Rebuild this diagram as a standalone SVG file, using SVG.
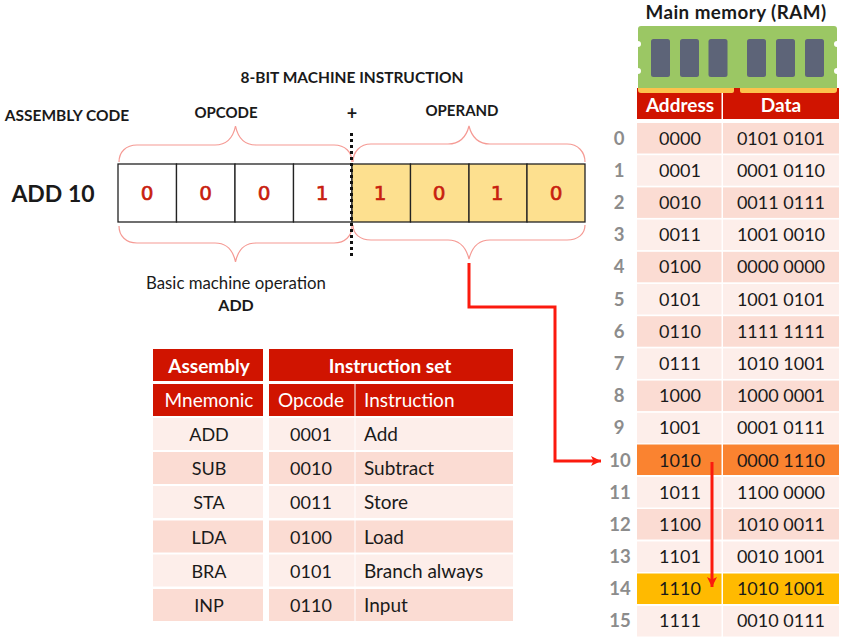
<svg xmlns="http://www.w3.org/2000/svg" width="846" height="639" viewBox="0 0 846 639">
<style>
text{font-family:"Lato","Open Sans","Liberation Sans",sans-serif;fill:#1a1a1a}
.m{text-anchor:middle}
.b{font-weight:700}
.t{font-size:15.500px}
.c{font-size:18px;text-anchor:middle}
.i{font-size:19px}
.h{font-size:19px;fill:#fff;text-anchor:middle}
.hb{font-size:19px;fill:#fff;text-anchor:middle;font-weight:700}
.n{font-size:18.500px;font-weight:700;fill:#8c8c8c;text-anchor:middle}
.bit{font-family:"DejaVu Sans",sans-serif;font-size:20px;fill:#c8200e;text-anchor:middle;font-weight:400;stroke:#c8200e;stroke-width:.6}
.red{fill:#d01400}
.d{fill:#fbdcd3}
.l{fill:#fdeeea}
.cell{stroke:#222;stroke-width:1.3}
.brace{fill:none;stroke:#f59a94;stroke-width:1.2}
.conn{fill:none;stroke:#fb1a0e;stroke-width:3}
.chip{fill:#5d6478}
.strip{fill:#fcc24c}
</style>
<defs>
<marker id="arr" markerUnits="userSpaceOnUse" markerWidth="12" markerHeight="12" refX="10" refY="5" orient="auto"><path d="M0 0L10 5L0 10L2.500 5Z" fill="#fb1a0e"/></marker>
</defs>
<rect width="846" height="639" fill="#fff"/>

<g id="title-instruction"><text class="m b t" x="352" y="83">8-BIT MACHINE INSTRUCTION</text></g>
<g id="label-assembly"><text class="m b t" x="67" y="121">ASSEMBLY CODE</text></g>
<g id="label-opcode"><text class="m b" style="font-size:15px" x="226" y="118">OPCODE</text></g>
<g id="label-plus"><text class="m b" style="font-size:18px" x="352" y="120">+</text></g>
<g id="label-operand"><text class="m b" style="font-size:15px" x="462" y="116">OPERAND</text></g>
<g id="label-add10"><text class="m b" style="font-size:23px" x="53" y="202">ADD 10</text></g>
<g id="label-basic"><text class="m" style="font-size:16.800px" x="236" y="289">Basic machine operation</text><text class="m b" style="font-size:16px" x="236" y="311">ADD</text></g>

<g id="opcode-bits">
<rect class="cell" x="118" y="164" width="58.500" height="58" fill="#fff"/><text class="bit" x="147" y="200">0</text>
<rect class="cell" x="176.500" y="164" width="58.500" height="58" fill="#fff"/><text class="bit" x="205.500" y="200">0</text>
<rect class="cell" x="235" y="164" width="58.500" height="58" fill="#fff"/><text class="bit" x="264" y="200">0</text>
<rect class="cell" x="293.500" y="164" width="58.500" height="58" fill="#fff"/><text class="bit" x="322" y="200">1</text>
</g>
<g id="operand-bits">
<rect class="cell" x="352" y="164" width="58.500" height="58" fill="#fde08f"/><text class="bit" x="380" y="200">1</text>
<rect class="cell" x="410.500" y="164" width="58.500" height="58" fill="#fde08f"/><text class="bit" x="439" y="200">0</text>
<rect class="cell" x="469" y="164" width="58" height="58" fill="#fde08f"/><text class="bit" x="497" y="200">1</text>
<rect class="cell" x="527" y="164" width="58" height="58" fill="#fde08f"/><text class="bit" x="556" y="200">0</text>
</g>
<g id="braces">
<path class="brace" d="M119 162C119 152 126 145 137 145H215C226 145 233 138 235.500 126C238 138 245 145 256 145H334C345 145 352 152 352 162"/>
<path class="brace" d="M119 226C119 236 126 243 137 243H215C226 243 233 250 235.500 262C238 250 245 243 256 243H334C345 243 352 236 352 226"/>
<path class="brace" d="M353 162C353 152 360 144 371 144H448C459 144 466 138 469 126C472 138 479 144 490 144H567C578 144 585 152 585 162"/>
<path class="brace" d="M353 225C353 234 360 240 371 240H448C459 240 466 247 469 259C472 247 479 240 490 240H567C578 240 585 234 585 225"/>
</g>
<g id="divider"><line x1="351.500" y1="133" x2="351.500" y2="259" stroke="#111" stroke-width="3" stroke-dasharray="3 3"/></g>

<g id="instruction-table">
<rect class="red" x="153" y="349" width="110" height="32"/><text class="hb" x="209" y="373">Assembly</text>
<rect class="red" x="269" y="349" width="244" height="32"/><text class="hb" x="390" y="373">Instruction set</text>
<rect class="red" x="153" y="384" width="110" height="32"/><text class="h" x="209" y="407">Mnemonic</text>
<rect class="red" x="269" y="384" width="85.500" height="32"/><text class="h" x="311" y="407">Opcode</text>
<rect class="red" x="355.500" y="384" width="157.500" height="32"/><text class="h" style="text-anchor:start" x="364" y="407">Instruction</text>
<rect class="l" x="153" y="418" width="110" height="32"/><rect class="l" x="269" y="418" width="85.500" height="32"/><rect class="l" x="355.500" y="418" width="157.500" height="32"/>
<rect class="d" x="153" y="452" width="110" height="32"/><rect class="d" x="269" y="452" width="85.500" height="32"/><rect class="d" x="355.500" y="452" width="157.500" height="32"/>
<rect class="l" x="153" y="486" width="110" height="32"/><rect class="l" x="269" y="486" width="85.500" height="32"/><rect class="l" x="355.500" y="486" width="157.500" height="32"/>
<rect class="d" x="153" y="520.500" width="110" height="32"/><rect class="d" x="269" y="520.500" width="85.500" height="32"/><rect class="d" x="355.500" y="520.500" width="157.500" height="32"/>
<rect class="l" x="153" y="554.500" width="110" height="32"/><rect class="l" x="269" y="554.500" width="85.500" height="32"/><rect class="l" x="355.500" y="554.500" width="157.500" height="32"/>
<rect class="d" x="153" y="589" width="110" height="32"/><rect class="d" x="269" y="589" width="85.500" height="32"/><rect class="d" x="355.500" y="589" width="157.500" height="32"/>
<text class="c" x="209" y="441">ADD</text><text class="c" x="311" y="441">0001</text><text class="i" x="364" y="441">Add</text>
<text class="c" x="209" y="475">SUB</text><text class="c" x="311" y="475">0010</text><text class="i" x="364" y="475">Subtract</text>
<text class="c" x="209" y="509">STA</text><text class="c" x="311" y="509">0011</text><text class="i" x="364" y="509">Store</text>
<text class="c" x="209" y="544">LDA</text><text class="c" x="311" y="544">0100</text><text class="i" x="364" y="544">Load</text>
<text class="c" x="209" y="578">BRA</text><text class="c" x="311" y="578">0101</text><text class="i" x="364" y="578">Branch always</text>
<text class="c" x="209" y="612">INP</text><text class="c" x="311" y="612">0110</text><text class="i" x="364" y="612">Input</text>
</g>

<g id="ram-title"><text class="m b" style="font-size:18.800px;letter-spacing:.45px" x="736" y="19">Main memory (RAM)</text></g>
<g id="ram-chip">
<path d="M641 26H834a3 3 0 0 1 3 3V41a3 3 0 0 0 0 6V68a3 3 0 0 0 0 6V88H638V74a3 3 0 0 0 0-6V47a3 3 0 0 0 0-6V29a3 3 0 0 1 3-3Z" fill="#9bc764"/>
<rect class="chip" x="651" y="39" width="19" height="38" rx="2.500"/>
<rect class="chip" x="680" y="39" width="19" height="38" rx="2.500"/>
<rect class="chip" x="708.500" y="39" width="19" height="38" rx="2.500"/>
<rect class="chip" x="747" y="39" width="19" height="38" rx="2.500"/>
<rect class="chip" x="776" y="39" width="19" height="38" rx="2.500"/>
<rect class="chip" x="805" y="39" width="19" height="38" rx="2.500"/>
</g>
<g id="ram-header">
<rect class="red" x="637" y="88" width="84.500" height="31"/><text class="hb" x="680" y="112">Address</text>
<rect class="red" x="723" y="88" width="116" height="31"/><text class="hb" x="781" y="112">Data</text>
<path class="strip" d="M638 88H734V91a2 2 0 0 1-2 2H641a3 3 0 0 1-3-3Z"/>
<path class="strip" d="M740 88H837V90a3 3 0 0 1-3 3H742a2 2 0 0 1-2-2Z"/>
</g>
<g id="ram-rows">
<rect class="d" x="637" y="123" width="84.500" height="30.500"/><rect class="d" x="723" y="123" width="116" height="30.500"/>
<rect class="l" x="637" y="155.200" width="84.500" height="30.500"/><rect class="l" x="723" y="155.200" width="116" height="30.500"/>
<rect class="d" x="637" y="187.400" width="84.500" height="30.500"/><rect class="d" x="723" y="187.400" width="116" height="30.500"/>
<rect class="l" x="637" y="219.600" width="84.500" height="30.500"/><rect class="l" x="723" y="219.600" width="116" height="30.500"/>
<rect class="d" x="637" y="251.800" width="84.500" height="30.500"/><rect class="d" x="723" y="251.800" width="116" height="30.500"/>
<rect class="l" x="637" y="284" width="84.500" height="30.500"/><rect class="l" x="723" y="284" width="116" height="30.500"/>
<rect class="d" x="637" y="316.200" width="84.500" height="30.500"/><rect class="d" x="723" y="316.200" width="116" height="30.500"/>
<rect class="l" x="637" y="348.400" width="84.500" height="30.500"/><rect class="l" x="723" y="348.400" width="116" height="30.500"/>
<rect class="d" x="637" y="380.600" width="84.500" height="30.500"/><rect class="d" x="723" y="380.600" width="116" height="30.500"/>
<rect class="l" x="637" y="412.800" width="84.500" height="30.500"/><rect class="l" x="723" y="412.800" width="116" height="30.500"/>
<rect fill="#fa8330" x="637" y="444.500" width="84.500" height="30.500"/><rect fill="#fa8330" x="723" y="444.500" width="116" height="30.500"/>
<rect class="l" x="637" y="477" width="84.500" height="30.500"/><rect class="l" x="723" y="477" width="116" height="30.500"/>
<rect class="d" x="637" y="509" width="84.500" height="30.500"/><rect class="d" x="723" y="509" width="116" height="30.500"/>
<rect class="l" x="637" y="541.500" width="84.500" height="30.500"/><rect class="l" x="723" y="541.500" width="116" height="30.500"/>
<rect fill="#ffba00" x="637" y="573.500" width="84.500" height="30.500"/><rect fill="#ffba00" x="723" y="573.500" width="116" height="30.500"/>
<rect class="l" x="637" y="606" width="84.500" height="30.500"/><rect class="l" x="723" y="606" width="116" height="30.500"/>
<text class="n" x="619" y="145">0</text><text class="c" x="680" y="145">0000</text><text class="c" x="781" y="145">0101 0101</text>
<text class="n" x="619" y="177">1</text><text class="c" x="680" y="177">0001</text><text class="c" x="781" y="177">0001 0110</text>
<text class="n" x="619" y="209">2</text><text class="c" x="680" y="209">0010</text><text class="c" x="781" y="209">0011 0111</text>
<text class="n" x="619" y="241">3</text><text class="c" x="680" y="241">0011</text><text class="c" x="781" y="241">1001 0010</text>
<text class="n" x="619" y="273">4</text><text class="c" x="680" y="273">0100</text><text class="c" x="781" y="273">0000 0000</text>
<text class="n" x="619" y="306">5</text><text class="c" x="680" y="306">0101</text><text class="c" x="781" y="306">1001 0101</text>
<text class="n" x="619" y="338">6</text><text class="c" x="680" y="338">0110</text><text class="c" x="781" y="338">1111 1111</text>
<text class="n" x="619" y="370">7</text><text class="c" x="680" y="370">0111</text><text class="c" x="781" y="370">1010 1001</text>
<text class="n" x="619" y="402">8</text><text class="c" x="680" y="402">1000</text><text class="c" x="781" y="402">1000 0001</text>
<text class="n" x="619" y="434">9</text><text class="c" x="680" y="434">1001</text><text class="c" x="781" y="434">0001 0111</text>
<text class="n" x="620" y="467">10</text><text class="c" x="680" y="467">1010</text><text class="c" x="781" y="467">0000 1110</text>
<text class="n" x="620" y="499">11</text><text class="c" x="680" y="499">1011</text><text class="c" x="781" y="499">1100 0000</text>
<text class="n" x="620" y="531">12</text><text class="c" x="680" y="531">1100</text><text class="c" x="781" y="531">1010 0011</text>
<text class="n" x="620" y="563">13</text><text class="c" x="680" y="563">1101</text><text class="c" x="781" y="563">0010 1001</text>
<text class="n" x="620" y="595">14</text><text class="c" x="680" y="595">1110</text><text class="c" x="781" y="595">1010 1001</text>
<text class="n" x="620" y="627">15</text><text class="c" x="680" y="627">1111</text><text class="c" x="781" y="627">0010 0111</text>
</g>
<g id="connectors">
<path class="conn" marker-end="url(#arr)" d="M469 263V307H555V461H601"/>
<path class="conn" marker-end="url(#arr)" d="M712 462V587"/>
</g>
</svg>
